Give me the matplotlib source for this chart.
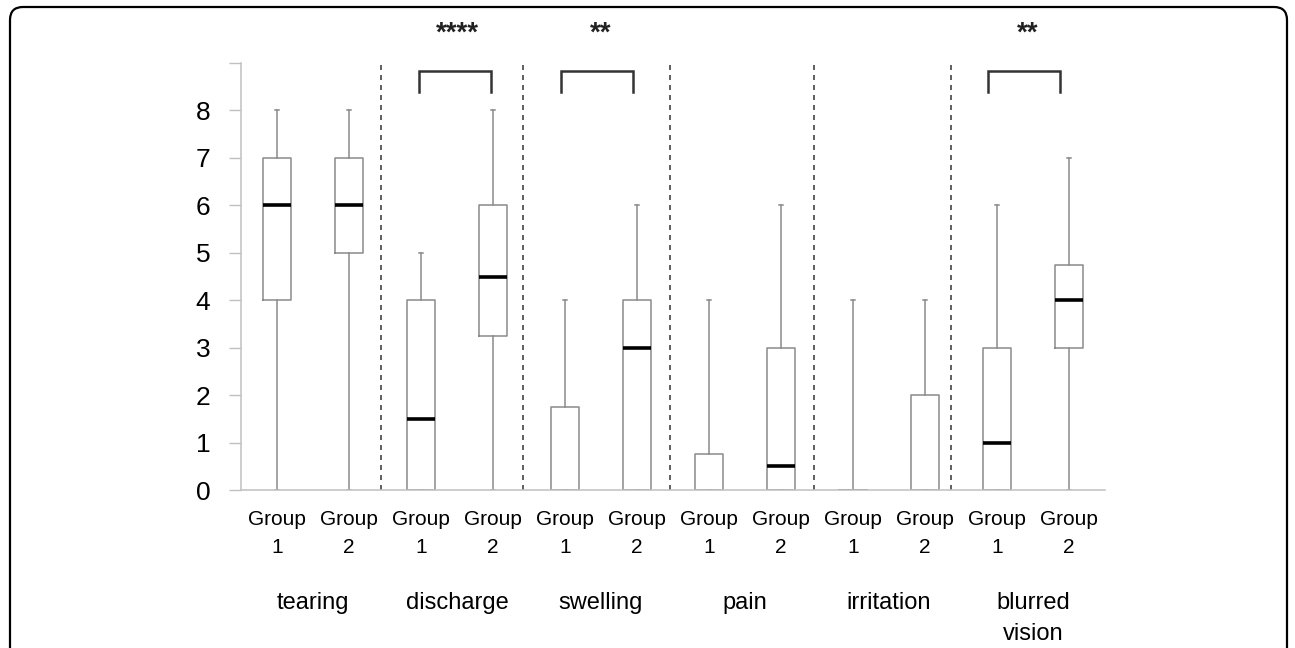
import matplotlib

matplotlib.use("Agg")
import matplotlib.pyplot as plt
from matplotlib.patches import FancyBboxPatch
from matplotlib.transforms import IdentityTransform

# --------------------------------------------------------------------------
# data
# --------------------------------------------------------------------------
symptoms = ["tearing", "discharge", "swelling", "pain", "irritation", "blurred\nvision"]
groups = ["Group\n1", "Group\n2"]

# one entry per box, symptom by symptom, Group 1 then Group 2
whisker_low = [0, 0, 0, 0, 0, 0, 0, 0, 0, 0, 0, 0]
q1 = [4, 5, 0, 3.25, 0, 0, 0, 0, 0, 0, 0, 3]
medians = [6, 6, 1.5, 4.5, 0, 3, 0, 0.5, 0, 0, 1, 4]
q3 = [7, 7, 4, 6, 1.75, 4, 0.75, 3, 0, 2, 3, 4.75]
whisker_high = [8, 8, 5, 8, 4, 6, 4, 6, 4, 4, 6, 7]

separators = [2.44, 4.42, 6.46, 8.46, 10.36]

# significance brackets: (left, right, stars)
bracket_left = [2.97, 4.94, 10.875]
bracket_right = [3.97, 5.94, 11.875]
stars = ["****", "**", "**"]
star_x = [3.5, 5.49, 11.42]

BOX_GREY = "#8a8a8a"
AXIS_GREY = "#c0c0c0"
INK = "#222222"

plt.rcParams["font.family"] = ["Liberation Sans", "DejaVu Sans"]

fig = plt.figure(figsize=(12.95, 6.48), dpi=100, facecolor="white")
ax = fig.add_axes([0.1861, 0.2438, 0.8533 - 0.1861, 0.9028 - 0.2438])

stats = []
for i in range(len(medians)):
    stats.append({
        "whislo": whisker_low[i], "q1": q1[i], "med": medians[i],
        "q3": q3[i], "whishi": whisker_high[i], "fliers": [],
    })

positions = list(range(1, len(stats) + 1))
parts = ax.bxp(
    stats, positions=positions, widths=0.40, showfliers=False,
    boxprops=dict(color=BOX_GREY, linewidth=1.1),
    whiskerprops=dict(color=BOX_GREY, linewidth=1.1),
    capprops=dict(color=BOX_GREY, linewidth=1.1),
    medianprops=dict(color="black", linewidth=2.6),
    capwidths=0.05,
)
# a median sitting on the floor is not visible in the original
for line, med in zip(parts["medians"], medians):
    if med == 0:
        line.set_visible(False)

for x in separators:
    ax.plot([x, x], [0, 9.07], color="#444444", linewidth=1.2,
            linestyle=(0, (3, 3)), clip_on=False, zorder=1)

for left, right in zip(bracket_left, bracket_right):
    ax.plot([left, left, right, right], [8.39, 8.84, 8.84, 8.39],
            color="#333333", linewidth=1.8, clip_on=False,
            solid_joinstyle="miter")
for x, s in zip(star_x, stars):
    ax.text(x, 9.62, s, ha="center", va="center", fontsize=20,
            fontweight="bold", color=INK, clip_on=False)

ax.set_xlim(0.5, 12.5)
ax.set_ylim(0, 9)
ax.set_yticks(range(0, 10))
ax.set_yticklabels([str(v) for v in range(0, 9)] + [""])
ax.tick_params(axis="y", colors=AXIS_GREY, labelcolor="black",
               labelsize=19, length=9, width=1, pad=13)
ax.tick_params(axis="x", length=0, labelbottom=False)
ax.set_xticks([])

for side in ("top", "right"):
    ax.spines[side].set_visible(False)
for side in ("left", "bottom"):
    ax.spines[side].set_color(AXIS_GREY)
    ax.spines[side].set_linewidth(1.1)

# group labels under each box, symptom names under each pair
for i, pos in enumerate(positions):
    ax.text(pos, -0.42, groups[i % 2], ha="center", va="top", fontsize=15,
            color="black", linespacing=1.62, clip_on=False)
for k, name in enumerate(symptoms):
    ax.text(2 * k + 1.5, -2.14, name, ha="center", va="top", fontsize=17,
            color="black", linespacing=1.57, clip_on=False)

# rounded frame around the panel, open at the bottom
frame = FancyBboxPatch(
    (10, -30), 1277, 648 - 7 + 30,
    boxstyle="round,pad=0,rounding_size=13",
    transform=IdentityTransform(), facecolor="none",
    edgecolor="black", linewidth=1.6,
)
fig.patches.append(frame)

fig.savefig("out.png", dpi=100, facecolor="white")
